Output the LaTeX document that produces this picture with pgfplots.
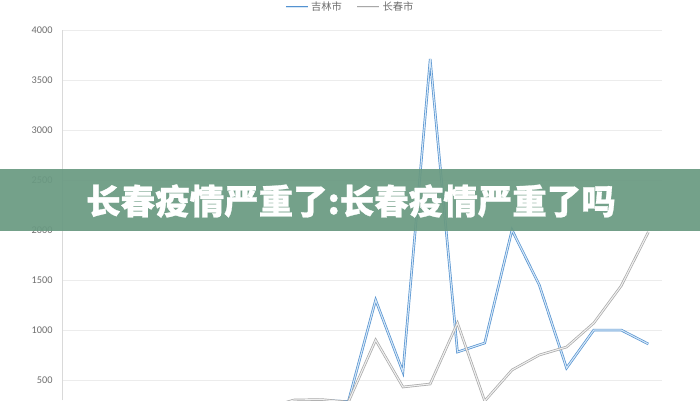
\documentclass[border=0pt]{standalone}
\usepackage{pgfplots}
\pgfplotsset{compat=1.18}
\usepackage{fontspec}
\setmainfont{Carlito}
\newfontfamily\cjk{Noto Sans CJK SC}[BoldFeatures={FakeBold=0.8}]
\definecolor{jlblue}{RGB}{84,146,208}
\definecolor{jlin}{RGB}{214,231,247}
\definecolor{ccgray}{RGB}{168,168,168}
\definecolor{ccin}{RGB}{240,240,240}
\definecolor{gridc}{RGB}{236,236,236}
\definecolor{axc}{RGB}{217,217,217}
\definecolor{txt}{RGB}{110,110,110}
\definecolor{banner}{RGB}{106,154,130}
\pgfplotstableread{
i jilin changchun
0 20 10
1 30 20
2 50 40
3 80 60
4 120 90
5 160 130
6 200 170
7 250 220
8 285 300
9 295 305
10 285 280
11 1300 900
12 580 430
13 3710 460
14 780 1070
15 870 290
16 2000 600
17 1450 750
18 620 830
19 1000 1070
20 1000 1440
21 860 1980
}\datatable
\begin{document}
\begin{tikzpicture}[x=1pt,y=1pt]
\useasboundingbox (0,0) rectangle (700,400);
\fill[white] (0,0) rectangle (700,400);
\begin{axis}[
  at={(62pt,0pt)}, anchor=south west,
  width=600pt, height=370pt, scale only axis,
  xmin=-0.5, xmax=21.5, ymin=300, ymax=4000,
  axis x line=none, axis y line*=left,
  y axis line style={draw=axc, line width=0.8pt, -},
  ymajorgrids, grid style={draw=gridc, line width=0.8pt},
  ytick={500,1000,...,4000},
  major tick length=0pt,
  yticklabel style={font=\fontsize{10.3}{12}\selectfont, text=txt, xshift=-6pt},
  /pgf/number format/assume math mode=true,
  /pgf/number format/1000 sep={},
  clip=true,
  legend columns=2,
  legend style={at={(0.48,1.062)}, anchor=center, draw=none, fill=none,
    font=\cjk\fontsize{10.3}{12}\selectfont, text=txt,
    /tikz/every even column/.append style={column sep=12pt}},
  legend image code/.code={\draw[#1] (0pt,0pt) -- (22pt,0pt);},
]
\addplot[draw=jlblue, line width=0.7pt, double=jlin, double distance=1.1pt, line join=miter] table[x=i, y=jilin] {\datatable};
\addlegendentry{吉林市}
\addplot[draw=ccgray, line width=0.7pt, double=ccin, double distance=1.1pt, line join=miter] table[x=i, y=changchun] {\datatable};
\addlegendentry{长春市}
\end{axis}
\fill[banner, fill opacity=0.93] (0,169) rectangle (700,231);
\node[text=white, font=\cjk\bfseries\fontsize{34.5}{34.5}\selectfont, inner sep=0pt] at (351,199) {长春疫情严重了:长春疫情严重了吗};
\end{tikzpicture}
\end{document}
